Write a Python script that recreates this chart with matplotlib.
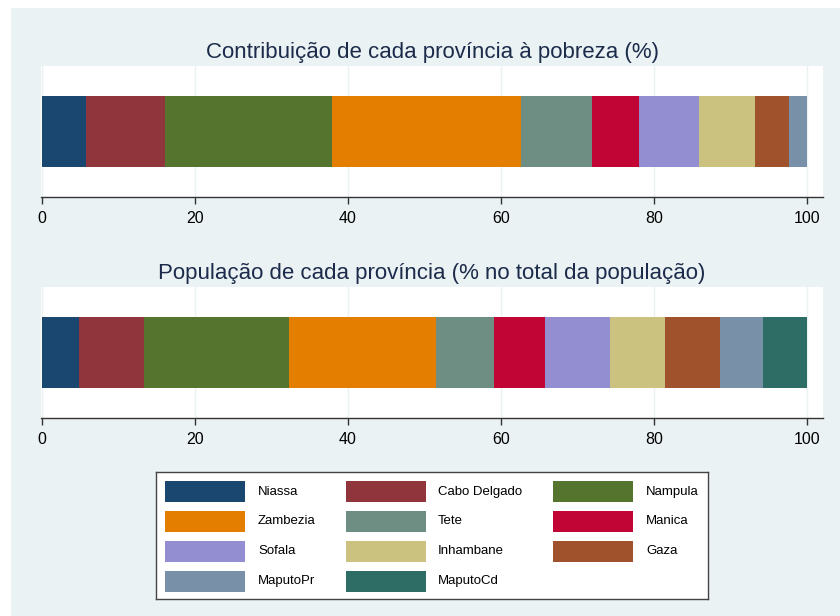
import numpy as np
import matplotlib.pyplot as plt
from matplotlib.patches import Rectangle

plt.rcParams['font.family'] = ['Liberation Sans', 'DejaVu Sans']

# Provinces in stacking order and Stata s2color palette
provinces = ['Niassa', 'Cabo Delgado', 'Nampula', 'Zambezia', 'Tete', 'Manica',
             'Sofala', 'Inhambane', 'Gaza', 'MaputoPr', 'MaputoCd']
colors = ['#1a476f', '#90353b', '#55752f', '#e37e00', '#6e8e84', '#c10534',
          '#938dd2', '#cac27e', '#a0522d', '#7890a8', '#2d6d66']

# Share of poverty (%) by province
poverty_share = [5.75, 10.3, 21.85, 24.75, 9.25, 6.2, 7.8, 7.35, 4.35, 2.4, 0.0]
# Share of total population (%) by province
population_share = [4.9, 8.5, 18.9, 19.2, 7.6, 6.7, 8.5, 7.2, 7.1, 5.6, 5.8]

titles = ['Contribuição de cada província à pobreza (%)',
          'População de cada província (% no total da população)']
xticks = [0, 20, 40, 60, 80, 100]

BG = '#eaf2f3'
TITLE_COLOR = '#1c2b4b'
W, H = 840, 616

fig = plt.figure(figsize=(W / 100, H / 100), dpi=100, facecolor='white')
# Stata-style graph region (leaves a thin white strip on left and top)
fig.patches.append(Rectangle((11 / W, 0), 1 - 11 / W, 1 - 8 / H,
                             transform=fig.transFigure, facecolor=BG,
                             edgecolor='none', zorder=-10))


def px_axes(x0, y0, x1, y1):
    """Axes from pixel box (top-left origin)."""
    return fig.add_axes([x0 / W, 1 - y1 / H, (x1 - x0) / W, (y1 - y0) / H])


def stacked_bar(ax, values, title):
    ax.set_facecolor('white')
    left = 0.0
    for v, c in zip(values, colors):
        if v > 0:
            ax.barh(0.5, v, left=left, height=0.54, color=c, linewidth=0, zorder=3)
        left += v
    ax.set_xlim(-0.1, 102.1)
    ax.set_ylim(0, 1)
    ax.set_xticks(xticks)
    ax.tick_params(axis='x', length=5, width=1, color='#333333', labelsize=11.5,
                   pad=5, labelcolor='black')
    ax.set_yticks([])
    ax.grid(axis='x', color=BG, linewidth=1, zorder=0)
    for side in ['top', 'left', 'right']:
        ax.spines[side].set_visible(False)
    ax.spines['bottom'].set_color('#333333')
    ax.spines['bottom'].set_linewidth(1)
    ax.set_title(title, fontsize=16, color=TITLE_COLOR, pad=6)


ax1 = px_axes(41, 66, 823, 197)
stacked_bar(ax1, poverty_share, titles[0])
ax2 = px_axes(41, 287, 823, 418)
stacked_bar(ax2, population_share, titles[1])

# Legend box drawn in pixel coordinates
lx0, ly0, lx1, ly1 = 156, 472, 708, 599
lg = px_axes(lx0, ly0, lx1, ly1)
lg.set_xlim(lx0, lx1)
lg.set_ylim(ly1, ly0)
lg.set_xticks([])
lg.set_yticks([])
lg.set_facecolor('white')
for s in lg.spines.values():
    s.set_color('#444444')
    s.set_linewidth(1)

col_patch_x = [165, 346, 553]
col_text_x = [258, 438, 646]
row_y = [491.5, 521, 551, 581]
for i, (name, c) in enumerate(zip(provinces, colors)):
    r, k = divmod(i, 3)
    lg.add_patch(Rectangle((col_patch_x[k], row_y[r] - 10.5), 80, 21,
                           facecolor=c, edgecolor='none'))
    lg.text(col_text_x[k], row_y[r], name, fontsize=9.5, va='center', ha='left',
            color='black')

fig.savefig('out.png', dpi=100, facecolor=fig.get_facecolor())
